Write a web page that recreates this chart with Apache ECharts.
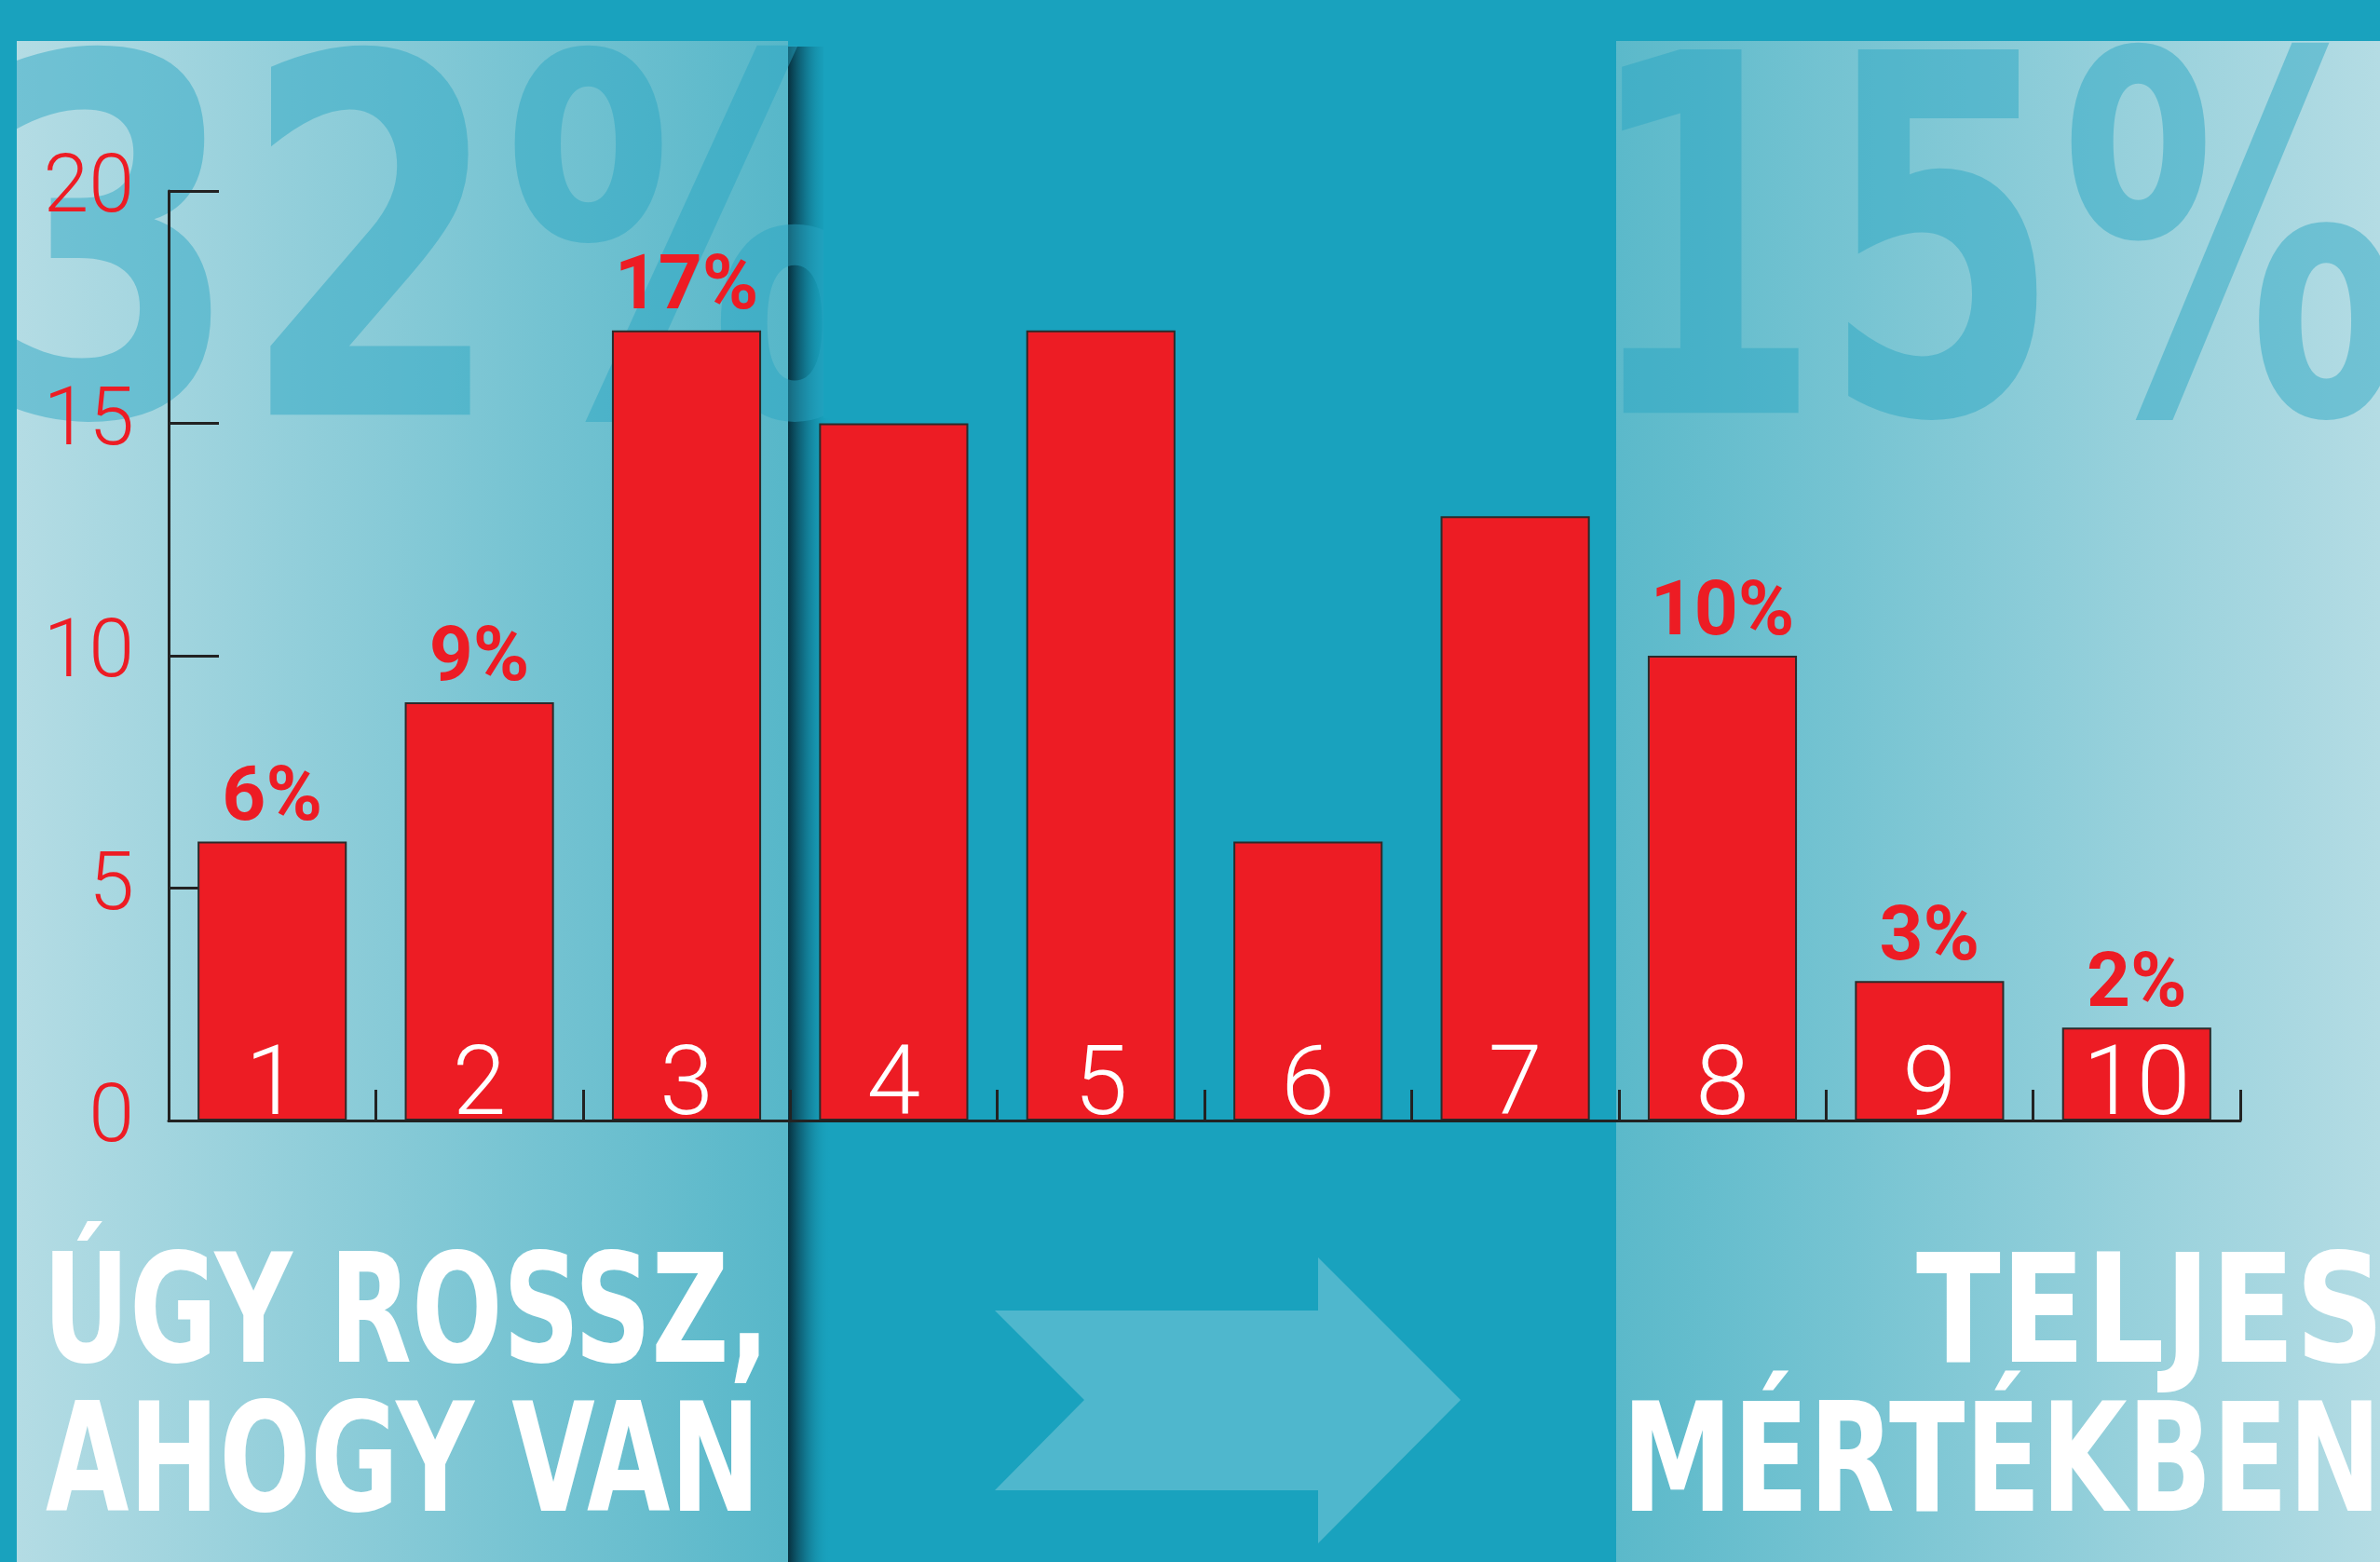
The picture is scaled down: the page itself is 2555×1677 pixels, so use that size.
<!DOCTYPE html>
<html><head><meta charset="utf-8">
<script src="https://cdn.jsdelivr.net/npm/echarts@6/dist/echarts.min.js"></script>
<style>html,body{margin:0;padding:0;background:#19A2BE}#c{width:2555px;height:1677px}</style>
</head><body><div id="c"></div>
<script>
// ---- data ----
const categories = ['1', '2', '3', '4', '5', '6', '7', '8', '9', '10'];
const values = [6, 9, 17, 15, 17, 6, 13, 10, 3, 2];
const labelVisible = [true, true, true, false, false, false, false, true, true, true];
const yMin = 0, yMax = 20, yInterval = 5;
const bigLeftText = '32%';
const bigRightText = '15%';
const leftTitle = ['ÚGY ROSSZ,', 'AHOGY VAN'];
const rightTitle = ['TELJES', 'MÉRTÉKBEN'];

// ---- helpers for decorative text fitting ----
const condensed = "'DejaVu Sans Condensed','DejaVu Sans',sans-serif";
const cx = document.createElement('canvas').getContext('2d');
function meas(text, font) { cx.font = font; cx.textAlign = 'left'; cx.textBaseline = 'middle'; return cx.measureText(text); }
function fitText(text, weight, family, capTop, capBottom, inkLeft, inkRight, color, z) {
  const m100 = meas('H', weight + ' 100px ' + family);
  const ratio = (m100.actualBoundingBoxAscent + m100.actualBoundingBoxDescent) / 100;
  const size = (capBottom - capTop) / ratio;
  const font = weight + ' ' + size.toFixed(2) + 'px ' + family;
  const mh = meas('H', font);
  const y = capTop + mh.actualBoundingBoxAscent;
  const mt = meas(text, font);
  const l = -mt.actualBoundingBoxLeft, r = mt.actualBoundingBoxRight;
  const s = (inkRight - inkLeft) / (r - l);
  const x = inkLeft - l * s;
  return { type: 'text', x: x, y: y, scaleX: s, z: z, silent: true,
    style: { text: text, x: 0, y: 0, font: font, fill: color,
      align: 'left', textAlign: 'left', verticalAlign: 'middle', textVerticalAlign: 'middle' } };
}

const bgTeal = '#19A2BE';
const bigColor = 'rgba(40,166,194,0.48)';

const graphic = [
  { type: 'rect', z: -20, silent: true, shape: { x: 18, y: 44, width: 828, height: 1633 },
    style: { fill: { type: 'linear', x: 0, y: 0, x2: 1, y2: 0, colorStops: [{ offset: 0, color: '#B4DCE4' }, { offset: 1, color: '#57B7C9' }] } } },
  { type: 'rect', z: -20, silent: true, shape: { x: 1735, y: 44, width: 820, height: 1633 },
    style: { fill: { type: 'linear', x: 0, y: 0, x2: 1, y2: 0, colorStops: [{ offset: 0, color: '#5BB9CA' }, { offset: 1, color: '#B4DCE4' }] } } },
  { type: 'rect', z: -19, silent: true, shape: { x: 846, y: 50, width: 46, height: 1627 },
    style: { fill: { type: 'linear', x: 0, y: 0, x2: 1, y2: 0, colorStops: [
      { offset: 0, color: 'rgba(6,42,55,0.95)' }, { offset: 0.35, color: 'rgba(10,75,95,0.6)' }, { offset: 1, color: 'rgba(24,162,190,0)' }] } } },
  { type: 'polygon', z: -18, silent: true,
    shape: { points: [[1068, 1407], [1415, 1407], [1415, 1350], [1568, 1503], [1415, 1657], [1415, 1600], [1068, 1600], [1164, 1503]] },
    style: { fill: '#4FB7CD' } },
  fitText(bigLeftText, 'bold', condensed, 53, 443, -2, 933, bigColor, -15),
  fitText(bigRightText, 'bold', condensed, 50, 441, 1738, 2570, bigColor, -15),
  { type: 'rect', z: -14, silent: true, shape: { x: 0, y: 0, width: 18, height: 470 }, style: { fill: bgTeal } },
  { type: 'rect', z: -14, silent: true, shape: { x: 0, y: 0, width: 2555, height: 44 }, style: { fill: bgTeal } },
  { type: 'rect', z: -14, silent: true, shape: { x: 884, y: 44, width: 160, height: 405 }, style: { fill: bgTeal } },
  fitText(leftTitle[0], 'bold', condensed, 1343, 1461, 56, 815, '#FFFFFF', 30),
  fitText(leftTitle[1], 'bold', condensed, 1503, 1621, 49, 806, '#FFFFFF', 30),
  fitText(rightTitle[0], 'bold', condensed, 1343, 1461, 2057, 2551, '#FFFFFF', 30),
  fitText(rightTitle[1], 'bold', condensed, 1503, 1621, 1752, 2546, '#FFFFFF', 30)
];

const chart = echarts.init(document.getElementById('c'), null, { renderer: 'canvas' });
chart.setOption({
  backgroundColor: bgTeal,
  animation: false,
  grid: { left: 181, right: 150, top: 205, bottom: 474, containLabel: false },
  xAxis: {
    type: 'category', data: categories, boundaryGap: true, z: 10,
    axisLine: { lineStyle: { color: '#222', width: 3 } },
    axisTick: { show: true, inside: true, length: 33, lineStyle: { color: '#222', width: 3 } },
    axisLabel: { inside: true, margin: -19, color: '#FFFFFF', fontSize: 104, fontWeight: 300, fontFamily: 'Roboto' }
  },
  yAxis: {
    type: 'value', min: yMin, max: yMax, interval: yInterval,
    axisLine: { show: true, lineStyle: { color: '#222', width: 3 } },
    axisTick: { show: true, inside: true, length: 54, lineStyle: { color: '#222', width: 3 } },
    splitLine: { show: false },
    axisLabel: { color: '#ED1C24', fontSize: 88, fontWeight: 300, fontFamily: 'Roboto', margin: 37 }
  },
  series: [{
    type: 'bar',
    data: values.map((v, i) => ({ value: v, label: { show: labelVisible[i] } })),
    barWidth: '72%',
    itemStyle: { color: '#ED1C24', borderColor: '#2b2b2b', borderWidth: 2 },
    label: { show: true, position: 'top', distance: 3, formatter: '{c}%', color: '#ED1C24',
      fontSize: 82, fontWeight: 'bold', fontFamily: 'Roboto' }
  }],
  graphic: graphic
});
</script>
</body></html>
